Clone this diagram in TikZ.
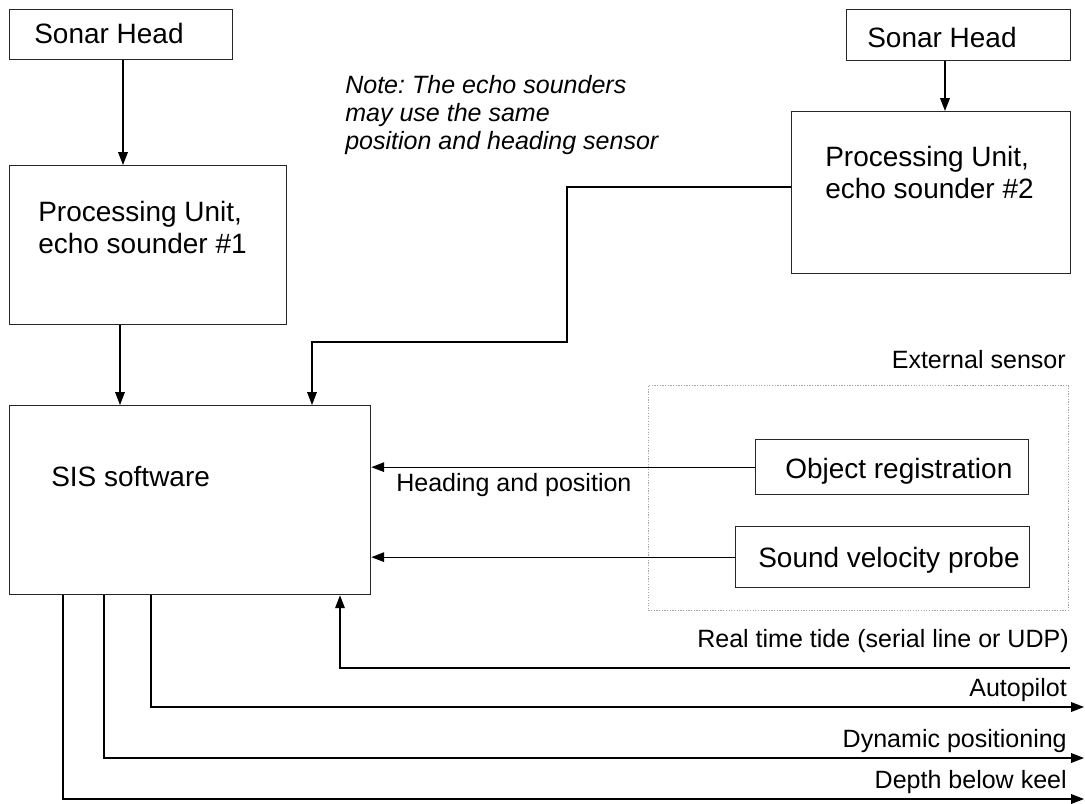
\documentclass[tikz,border=0pt]{standalone}
\usepackage{fontspec}
\setmainfont{Liberation Sans}
\usetikzlibrary{arrows.meta,calc}
\frenchspacing

\tikzset{
box/.style={draw=black!85, line width=0.9pt, anchor=north west, inner sep=0pt},
arr/.style={line width=0.9pt, -{Triangle[length=0.32cm,width=0.24cm]}},
big/.style={inner sep=0pt, align=left, font=\fontsize{19.9}{22.6}\selectfont},
lbl/.style={inner sep=0pt, align=left, font=\fontsize{17.8}{19.9}\selectfont},
note/.style={lbl, font=\fontsize{17.8}{19.9}\selectfont\itshape}
}

\begin{document}
\begin{tikzpicture}[x=0.025cm,y=-0.025cm]
\useasboundingbox (0,0) rectangle (1085,803);
% boxes
\node[box, minimum width=5.575cm, minimum height=1.25cm] (sh1) at (9,9) {};
\node[box, minimum width=6.925cm, minimum height=3.975cm] (pu1) at (9,165) {};
\node[box, minimum width=9.025cm, minimum height=4.725cm] (sis) at (9,405) {};
\node[box, minimum width=5.6cm, minimum height=1.275cm] (sh2) at (846,9) {};
\node[box, minimum width=6.975cm, minimum height=4.05cm] (pu2) at (791,111) {};
\node[box, densely dotted, draw=black!35, line width=0.5pt, minimum width=10.5cm, minimum height=5.625cm] (ext) at (648,385) {};
\node[box, minimum width=6.825cm, minimum height=1.375cm] (obj) at (755,439) {};
\node[box, minimum width=7.35cm, minimum height=1.525cm] (svp) at (735,526) {};
% texts
\node[big, anchor=base west] (sh1t) at (34,43) {Sonar Head};
\node[big, anchor=north west] (pu1t) at (38,201) {Processing Unit,\\echo sounder \#1};
\node[big, anchor=base west] (sh2t) at (867,47) {Sonar Head};
\node[big, anchor=north west] (pu2t) at (825,146) {Processing Unit,\\echo sounder \#2};
\node[big, anchor=base west] (sist) at (51,486) {SIS software};
\node[big, anchor=base west] (objt) at (785,478) {Object registration};
\node[big, anchor=base west] (svpt) at (758,567) {Sound velocity probe};
\node[note, anchor=north west] (notet) at (345,75) {Note: The echo sounders\\may use the same\\position and heading sensor};
\node[lbl, anchor=base east] (extt) at (1066,368) {External sensor};
\node[lbl, anchor=base west] (hdgt) at (396,491) {Heading and position};
% connectors
\draw[arr] ($(sh1.south west)+(114,0)$) -- ($(pu1.north west)+(114,0)$);
\draw[arr] ($(pu1.south west)+(111,0)$) -- ($(sis.north west)+(111,0)$);
\draw[arr] ($(sh2.south west)+(99,0)$) -- ($(pu2.north west)+(154,0)$);
\draw[arr] ($(pu2.north west)+(0,76)$) -| ++(-224,155) -| ($(sis.north west)+(303,0)$);
\draw[arr] (obj.west) -- (obj.west -| sis.east);
\draw[arr] (svp.west) -- (svp.west -| sis.east);
% tide input
\coordinate (tide) at (1070,668);
\draw[arr] (tide) -| ($(sis.south west)+(331,0)$);
\node[lbl, anchor=base east] (tidet) at (1069,647) {Real time tide (serial line or UDP)};
% outputs
\foreach \dx/\y/\txt [count=\i] in {142/707/Autopilot, 95/758/Dynamic positioning, 54/799/Depth below keel}{
\coordinate (out\i) at (1084,\y);
\draw[arr] ($(sis.south west)+(\dx,0)$) |- (out\i);
\node[lbl, anchor=base east] (outt\i) at (1067,\y-11) {\txt};
}
\end{tikzpicture}
\end{document}
